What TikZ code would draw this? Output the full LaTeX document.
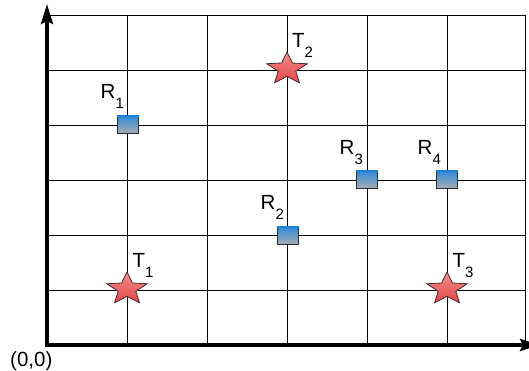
\documentclass[tikz,border=0pt]{standalone}
\usepackage{fontspec}
\setmainfont{Liberation Sans}
\usetikzlibrary{shapes.geometric,arrows.meta}
\definecolor{sqtop}{RGB}{50,140,215}
\definecolor{sqbot}{RGB}{168,173,180}
\definecolor{sqedge}{RGB}{40,45,55}
\definecolor{sqblue}{RGB}{30,130,220}
\definecolor{sttop}{RGB}{245,140,140}
\definecolor{stbot}{RGB}{228,70,70}
\definecolor{stedge}{RGB}{70,45,45}
\newcommand\mysub[1]{\raisebox{-10pt}{\fontsize{15}{18}\selectfont #1}}
\begin{document}
\begin{tikzpicture}[x=1pt,y=-1pt,
  gridline/.style={line width=0.9pt,black},
  axisline/.style={line width=3.2pt,line join=miter,
    {Stealth[length=20pt,width=12pt,inset=3pt]}-{Stealth[length=20pt,width=12pt,inset=3pt]}},
  sensor/.style={rectangle,draw=sqedge,line width=1pt,minimum width=21pt,
    minimum height=17pt,inner sep=0pt,top color=sqtop,bottom color=sqbot},
  sensortop/.style={sqblue,line width=1.2pt},
  target/.style={star,star points=5,star point ratio=2.3,minimum size=34pt,
    inner sep=0pt,draw=stedge,line width=0.8pt,top color=sttop,bottom color=stbot,
    transform shape},
  lbl/.style={inner sep=0pt,anchor=base west,font=\fontsize{20.5}{24}\selectfont}]
\useasboundingbox (0,0) rectangle (529,370);
% grid
\foreach \gx in {127,207,287,367,447,525}
  \draw[gridline] (\gx,15) -- (\gx,345);
\foreach \gy in {15,70,125,180,235,290}
  \draw[gridline] (47,\gy) -- (525,\gy);
% axes
\coordinate (ytop) at (47,4);
\coordinate (o) at (47,345);
\coordinate (xend) at (540,345);
\draw[axisline] (ytop) -- (o) -- (xend);
\node[lbl] (origin) at (10,366) {(0,0)};
% sensors
\node[sensor] (r1) at (127.5,125) {};
\node[sensor] (r2) at (287.5,236) {};
\node[sensor] (r3) at (366.5,180) {};
\node[sensor] (r4) at (446.5,180) {};
\foreach \r in {r1,r2,r3,r4}
  \draw[sensortop] (\r.north west) -- (\r.north east);
\node[lbl] (lr1) at (100.5,98) {R\mysub{1}};
\node[lbl] (lr2) at (260.5,209) {R\mysub{2}};
\node[lbl] (lr3) at (339.5,154) {R\mysub{3}};
\node[lbl] (lr4) at (417.5,154) {R\mysub{4}};
% targets
\begin{scope}[shift={(127,289)},xscale=1.25]
  \node[target] (t1) at (0,0) {};
\end{scope}
\begin{scope}[shift={(287,69)},xscale=1.25]
  \node[target] (t2) at (0,0) {};
\end{scope}
\begin{scope}[shift={(447,289)},xscale=1.25]
  \node[target] (t3) at (0,0) {};
\end{scope}
\node[lbl] (lt1) at (132.5,267) {T\mysub{1}};
\node[lbl] (lt2) at (292,47) {T\mysub{2}};
\node[lbl] (lt3) at (452.5,267) {T\mysub{3}};
\end{tikzpicture}
\end{document}
